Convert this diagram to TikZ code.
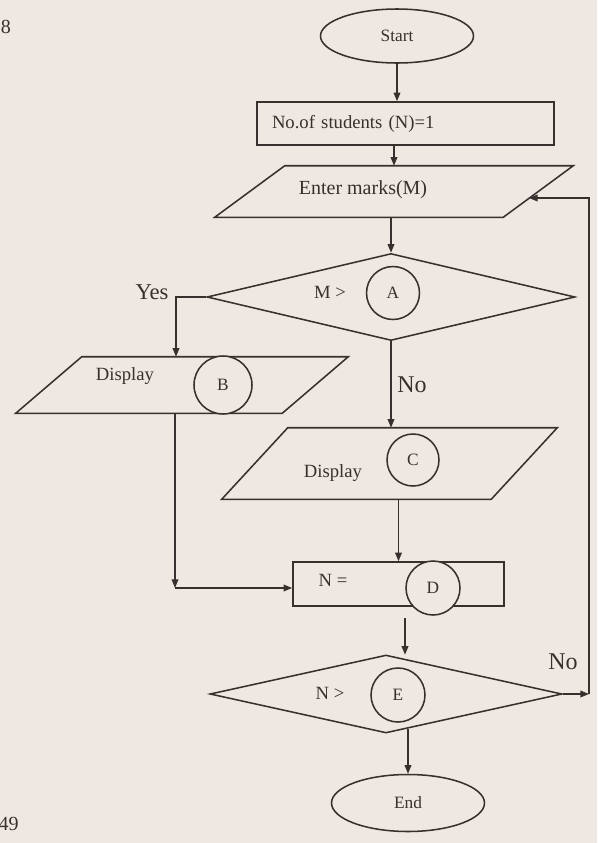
\documentclass[tikz,border=0pt]{standalone}
\usepackage{fontspec}
\setmainfont{Liberation Serif}
\usetikzlibrary{shapes.geometric,arrows.meta,calc}
\definecolor{paper}{RGB}{239,231,225}
\definecolor{ink}{RGB}{56,48,46}
\newcommand\paraline[2]{\draw[shp] (#1.south west) -- ($(#1.south east)+(-#2,0)$) -- (#1.north east) -- ($(#1.north west)+(#2,0)$) -- cycle;}
\begin{document}
\begin{tikzpicture}[x=0.75pt,y=-0.75pt,
  shp/.style={draw=ink,line width=1.15pt},
  arr/.style={draw=ink,line width=1.15pt,-{Triangle[length=6.5pt,width=5pt]}},
  lbl/.style={text=ink,inner sep=0pt,font=\fontsize{14}{16}\selectfont},
  big/.style={text=ink,inner sep=0pt,font=\fontsize{18}{20}\selectfont},
  term/.style={ellipse,draw=ink,line width=1.15pt,inner sep=0pt,text=ink,font=\fontsize{13}{15}\selectfont},
  procbox/.style={rectangle,draw=ink,line width=1.15pt,inner ysep=0pt,text=ink,font=\fontsize{14}{16}\selectfont},
  pbox/.style={rectangle,inner sep=0pt},
  dia/.style={diamond,draw=ink,line width=1.15pt,inner sep=0pt,aspect=1},
  letter/.style={circle,draw=ink,fill=paper,line width=1.15pt,inner sep=0pt,text=ink,font=\fontsize{13}{15}\selectfont}]
\fill[paper] (0,0) rectangle (597,843);
\useasboundingbox (0,0) rectangle (597,843);
% page numbers
\node[lbl,anchor=west,font=\fontsize{15}{17}\selectfont] (pg1) at (0.5,27) {8};
\node[lbl,anchor=east,font=\fontsize{15}{17}\selectfont] (pg2) at (19,824) {49};
% start
\node[term,minimum width=114.75pt,minimum height=40.5pt] (start) at (397,36) {Start};
% init box
\node[procbox,minimum width=222.75pt,minimum height=32.25pt,inner xsep=11.25pt,text width=200.25pt,align=left] (init) at (405.5,123.5) {No.of students (N)=1};
% input
\node[pbox,minimum width=268.5pt,minimum height=38.25pt] (inp) at (394,191.5) {};
\paraline{inp}{70}
\node[lbl,font=\fontsize{15}{17}\selectfont] (inpt) at (363,190) {Enter marks(M)};
% decision A
\node[dia,minimum width=276pt,minimum height=65.25pt] (decA) at (391,297) {};
\node[lbl] (mgt) at (330,292) {M >};
\node[letter,minimum size=39.75pt] (cA) at (393,293) {A};
\node[big,font=\fontsize{17}{19}\selectfont] (yes) at (152,292) {Yes};
% display B
\node[pbox,minimum width=249pt,minimum height=42pt] (pB) at (182,385) {};
\paraline{pB}{66}
\node[lbl] (dispB) at (125,376) {Display};
\node[letter,minimum size=43.5pt] (cB) at (223,385) {B};
% display C
\node[pbox,minimum width=251.25pt,minimum height=53.25pt] (pC) at (389.5,463.5) {};
\paraline{pC}{66}
\node[lbl] (dispC) at (333,473) {Display};
\node[letter,minimum size=39pt] (cC) at (413,460) {C};
\node[big] (noA) at (412,385) {No};
% box D
\node[procbox,minimum width=158.25pt,minimum height=33pt] (dbox) at (398.5,584) {};
\node[lbl] (neq) at (333,580) {N =};
\node[letter,minimum size=40.5pt] (cD) at (433,588) {D};
% decision E
\node[dia,minimum width=264pt,minimum height=58.5pt] (decE) at (386,694) {};
\node[lbl] (ngt) at (330,693) {N >};
\node[letter,minimum size=40.5pt] (cE) at (398,695) {E};
\node[big] (noE) at (563,662) {No};
% end
\node[term,minimum width=114.75pt,minimum height=42.75pt] (endn) at (408,803) {End};
% connectors
\draw[arr] (start.south) -- (start.south |- init.north);
\draw[arr] (init.south -| inp.north) -- (inp.north);
\draw[arr] (inp.south -| decA.north) -- (decA.north);
\coordinate (yx) at (176,0);
\draw[arr] (decA.west) -| (yx |- pB.north);
\draw[arr] (decA.south) -- (decA.south |- pC.north);
\coordinate (bcorner) at (175,588);
\draw[arr] (bcorner |- pB.south) -- (bcorner);
\draw[arr] (bcorner) -- (dbox.west |- bcorner);
\draw[arr] (dbox.north |- pC.south) -- (dbox.north);
\draw[arr] ($(dbox.south)+(6.5,11)$) -- ++(0,37);
\coordinate (lx) at (589,0);
\draw[arr] (decE.east) -- (lx |- decE.east);
\coordinate (inR) at (529,198);
\draw[arr] (lx |- decE.east) |- (inR);
\draw[arr] ($(decE.south)+(22,-5)$) -- (endn.north);
\end{tikzpicture}
\end{document}
